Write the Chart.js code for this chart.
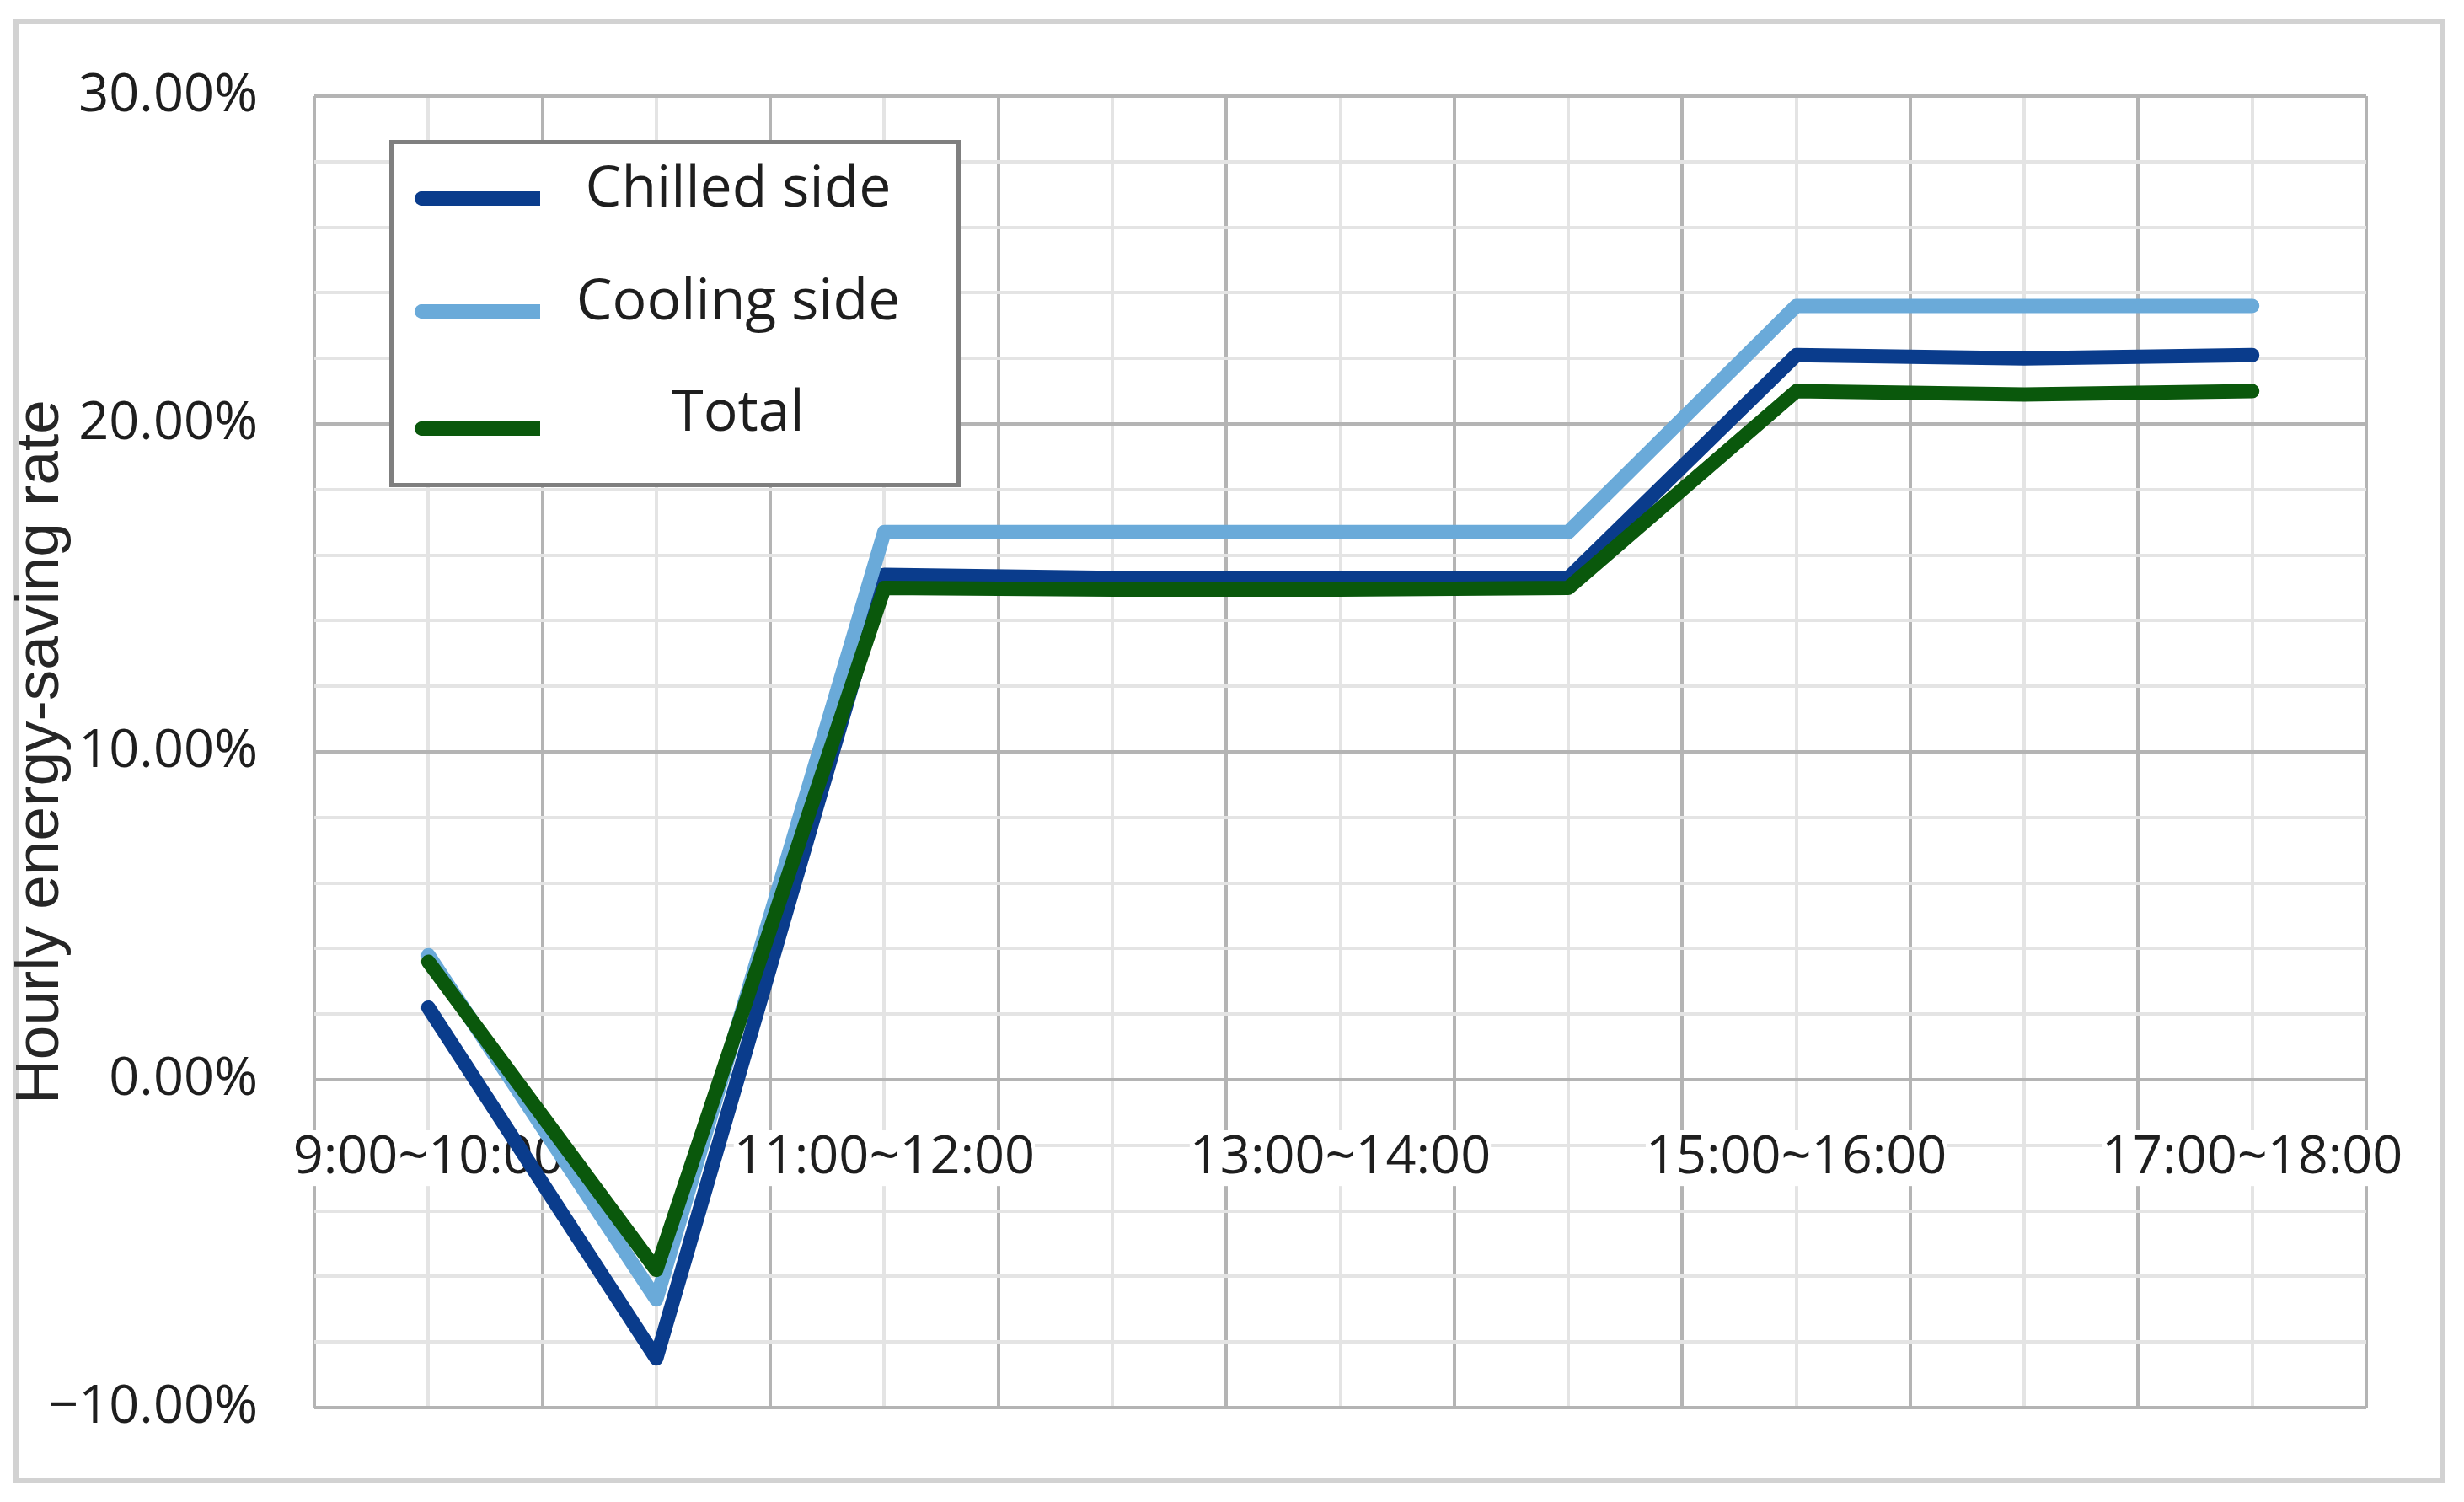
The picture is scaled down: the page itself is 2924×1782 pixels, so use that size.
<!DOCTYPE html>
<html>
<head>
<meta charset="utf-8">
<script src="https://cdn.jsdelivr.net/npm/chart.js@4.4.0/dist/chart.umd.min.js"></script>
<style>
  html, body { margin: 0; padding: 0; background: #ffffff; }
  #wrap { position: relative; width: 2924px; height: 1782px; overflow: hidden; background: #fff; }
  #frame { position: absolute; left: 16px; top: 22px; width: 2886px; height: 1738px; box-sizing: border-box; border: 6px solid #d2d2d2; }
  #chart { position: absolute; left: 0; top: 0; }
  #legend { position: absolute; left: 462px; top: 166px; width: 678px; height: 412px; box-sizing: border-box; border: 5px solid #7f7f7f; background: #fff; }
  .lg-line { position: absolute; left: 492px; width: 149px; height: 17px; border-radius: 8.5px 0 0 8.5px; }
  .lg-text { position: absolute; left: 676px; width: 400px; text-align: center; font-family: "Open Sans", sans-serif; font-size: 68px; line-height: 68px; color: #1e1e1e; white-space: nowrap; }
</style>
</head>
<body>
<div id="wrap">
  <div id="frame"></div>
  <canvas id="chart" width="2924" height="1782"></canvas>
  <div id="legend"></div>
</div>
<script>
// ---- data ----
const categories = ['9:00~10:00', '10:00~11:00', '11:00~12:00', '12:00~13:00', '13:00~14:00',
                    '14:00~15:00', '15:00~16:00', '16:00~17:00', '17:00~18:00'];
const chilledSide = [2.2, -8.5, 15.4, 15.3, 15.3, 15.3, 22.1, 22.0, 22.1];
const coolingSide = [3.8, -6.7, 16.7, 16.7, 16.7, 16.7, 23.6, 23.6, 23.6];
const totalSide   = [3.6, -5.8, 15.0, 14.95, 14.95, 15.0, 21.0, 20.9, 21.0];
const seriesNames = ['Chilled side', 'Cooling side', 'Total'];
const yMin = -10, yMax = 30, yMajorStep = 10, yMinorStep = 2;

// ---- style ----
const seriesColors = ['#0a3c8c', '#6aaad9', '#0a580c'];
const majorGrid = '#b4b4b4';
const minorGrid = '#e4e4e4';
const tickFont = { family: 'Open Sans', size: 63 };
const textColor = '#1e1e1e';

function fmtPct(v) {
  const s = Math.abs(v).toFixed(2) + '%';
  return v < 0 ? '\u2212' + s : s;
}

const seriesValues = [chilledSide, coolingSide, totalSide];
const datasets = seriesValues.map((vals, k) => ({
  label: seriesNames[k],
  data: vals.map((v, i) => ({ x: i, y: v })),
  borderColor: seriesColors[k],
  backgroundColor: seriesColors[k],
  borderWidth: 17,
  pointRadius: 0,
  pointHoverRadius: 0,
  tension: 0,
  fill: false,
  borderJoinStyle: 'round',
  borderCapStyle: 'round',
  order: 2 - k
}));

const chart = new Chart(document.getElementById('chart'), {
  type: 'line',
  data: { datasets },
  options: {
    responsive: false,
    devicePixelRatio: 1,
    animation: false,
    layout: { padding: { left: 0, top: 114, right: 116, bottom: 112 } },
    plugins: { legend: { display: false }, tooltip: { enabled: false } },
    scales: {
      x: {
        type: 'linear',
        min: -0.5,
        max: categories.length - 0.5,
        position: { y: 0 },
        afterBuildTicks: (s) => {
          const t = [];
          for (let k = 0; k <= categories.length * 2; k++) t.push({ value: -0.5 + k * 0.5 });
          s.ticks = t;
        },
        ticks: {
          autoSkip: false, maxRotation: 0, minRotation: 0,
          padding: 60,
          font: { family: 'Open Sans', size: 63, lineHeight: 1.05 },
          color: textColor,
          showLabelBackdrop: true,
          backdropColor: '#ffffff',
          backdropPadding: 0,
          z: 0,
          callback: (v) => (Number.isInteger(v) && v % 2 === 0) ? categories[v] : ''
        },
        grid: {
          color: (ctx) => Number.isInteger(ctx.tick.value) ? minorGrid : majorGrid,
          lineWidth: 4,
          drawTicks: false,
          z: -1
        },
        border: { display: false }
      },
      y: {
        type: 'linear',
        min: yMin, max: yMax,
        afterBuildTicks: (s) => {
          const t = [];
          for (let v = yMin; v <= yMax; v += yMinorStep) t.push({ value: v });
          s.ticks = t;
        },
        afterFit: (s) => { s.width = 373; },
        ticks: {
          autoSkip: false,
          padding: 67,
          font: tickFont,
          color: textColor,
          z: 0,
          callback: (v) => (v % yMajorStep === 0) ? fmtPct(v) : ''
        },
        grid: {
          color: (ctx) => (ctx.tick.value % yMajorStep === 0) ? majorGrid : minorGrid,
          lineWidth: 4,
          drawTicks: false,
          z: -1
        },
        border: { display: false },
        title: {
          display: true,
          text: 'Hourly energy-saving rate',
          font: { family: 'Liberation Sans', size: 73 },
          color: '#262626',
          padding: { top: 5, bottom: 0 }
        }
      }
    }
  }
});

// ---- HTML legend built from the chart's datasets ----
const lineCenters = [235, 369, 508];
const textBaselines = [245, 379, 511];
const wrap = document.getElementById('wrap');
chart.data.datasets.forEach((ds, i) => {
  const ln = document.createElement('div');
  ln.className = 'lg-line';
  ln.style.top = (lineCenters[i] - 8.5) + 'px';
  ln.style.background = ds.borderColor;
  wrap.appendChild(ln);
  const tx = document.createElement('div');
  tx.className = 'lg-text';
  tx.style.top = (textBaselines[i] - 60) + 'px';
  tx.textContent = ds.label;
  wrap.appendChild(tx);
});
</script>
</body>
</html>
